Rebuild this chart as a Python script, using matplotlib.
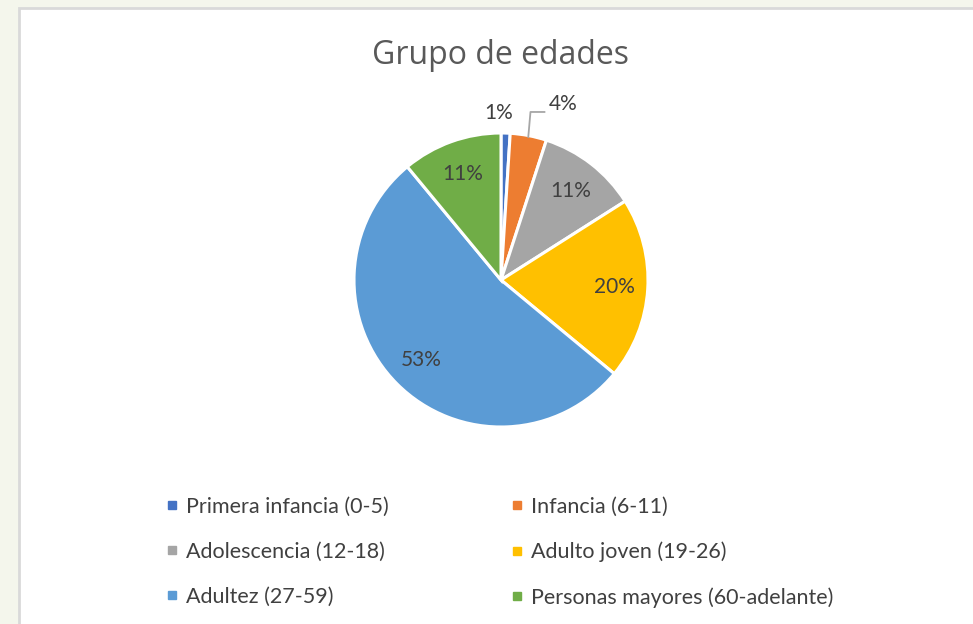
import numpy as np
import matplotlib.pyplot as plt
from matplotlib.patches import Rectangle
from matplotlib.lines import Line2D

# Datos del gráfico
categorias = ['Primera infancia (0-5)', 'Infancia (6-11)', 'Adolescencia (12-18)',
              'Adulto joven (19-26)', 'Adultez (27-59)', 'Personas mayores (60-adelante)']
porcentajes = [1, 4, 11, 20, 53, 11]
colores = ['#4472C4', '#ED7D31', '#A5A5A5', '#FFC000', '#5B9BD5', '#70AD47']

W, H = 973, 624
fig = plt.figure(figsize=(W / 100, H / 100), dpi=100)
fig.patch.set_facecolor('#f4f6ec')

# tarjeta blanca del gráfico
tarjeta = Rectangle((19 / W, -0.05), 1.1, (H - 8) / H + 0.05, transform=fig.transFigure,
                    facecolor='white', edgecolor='#d9d9d9', linewidth=2, zorder=-5)
fig.patches.append(tarjeta)

fig.text(500 / W, 1 - 55 / H, 'Grupo de edades', ha='center', va='center',
         fontsize=23, color='#595959', family='Open Sans')

# ejes del pastel
R = 147
k = 1.3
lado = 2 * k * R
cx, cy = 501, H - 280
ax = fig.add_axes([(cx - lado / 2) / W, (cy - lado / 2) / H, lado / W, lado / H])

cunas, _ = ax.pie(porcentajes, colors=colores, startangle=90, counterclock=False,
                  radius=1, wedgeprops=dict(edgecolor='white', linewidth=2.2))
# pie() fija sus propios límites, se ajustan después
ax.set_xlim(-k, k)
ax.set_ylim(-k, k)
ax.set_aspect('equal')
ax.axis('off')

estilo = dict(fontsize=15, color='#404040', family='Lato', ha='center', va='center')
for i, (w, p) in enumerate(zip(cunas, porcentajes)):
    ang = np.deg2rad((w.theta1 + w.theta2) / 2)
    txt = f'{p}%'
    if i == 0:
        ax.text(np.cos(ang) * 1.14 - 0.05, np.sin(ang) * 1.14, txt, **estilo)
    elif i == 1:
        x0, y0 = np.cos(ang) * 0.99, np.sin(ang) * 0.99
        ax.plot([x0, x0 + 0.015, x0 + 0.11], [y0, 1.143, 1.143], color='#a6a6a6', lw=1.3)
        ax.text(x0 + 0.24, 1.2, txt, **estilo)
    else:
        ax.text(np.cos(ang) * 0.77, np.sin(ang) * 0.77, txt, **estilo)

# leyenda en dos columnas, orden por filas
orden = [0, 2, 4, 1, 3, 5]
manejadores = [Line2D([], [], marker='s', linestyle='none', markersize=6,
                      markerfacecolor=colores[i], markeredgecolor=colores[i]) for i in orden]
etiquetas = [categorias[i] for i in orden]
leg = fig.legend(manejadores, etiquetas, ncol=2, loc='upper left',
                 bbox_to_anchor=(166 / W, 1 - 497 / H), frameon=False,
                 prop={'family': 'Lato', 'size': 15.5}, labelcolor='#404040',
                 handlelength=0.6, handletextpad=0.35, columnspacing=5.65,
                 labelspacing=1.15, borderaxespad=0, borderpad=0)

fig.savefig('out.png', dpi=100, facecolor=fig.get_facecolor())
